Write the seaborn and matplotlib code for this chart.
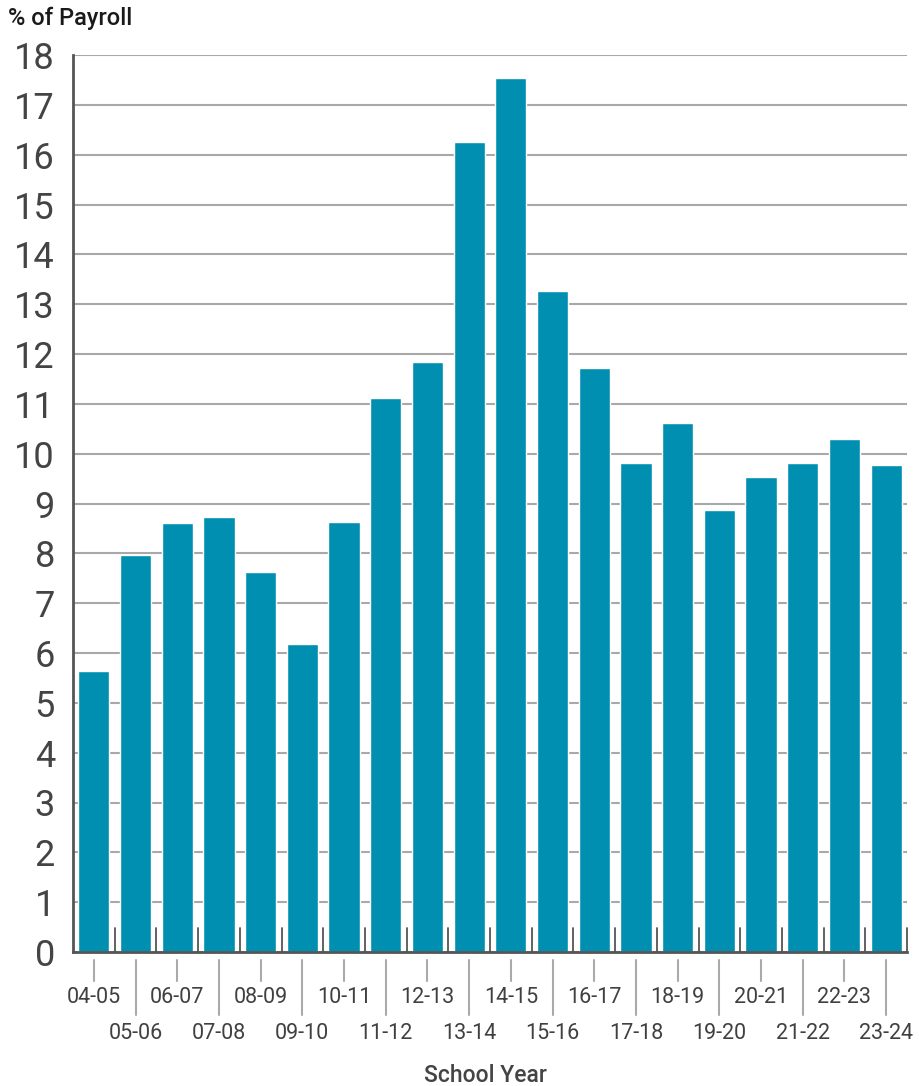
import matplotlib
matplotlib.use("Agg")
import matplotlib.pyplot as plt
import seaborn as sns
import pandas as pd
import numpy as np

years = ["04-05", "05-06", "06-07", "07-08", "08-09", "09-10", "10-11", "11-12",
         "12-13", "13-14", "14-15", "15-16", "16-17", "17-18", "18-19", "19-20",
         "20-21", "21-22", "22-23", "23-24"]
pct_payroll = [5.64, 7.97, 8.61, 8.73, 7.63, 6.18, 8.63, 11.12, 11.84, 16.26,
               17.54, 13.27, 11.72, 9.81, 10.62, 8.87, 9.53, 9.81, 10.29, 9.77]
y_ticks = list(range(0, 19))

sns.set_theme(style="white")
plt.rcParams['font.family'] = ['Roboto', 'DejaVu Sans']

df = pd.DataFrame({"year": years, "pct": pct_payroll})

W, H = 919, 1086
fig = plt.figure(figsize=(W / 100, H / 100), dpi=100)
ax_left, ax_right, ax_bottom, ax_top = 73, 907, 952, 55
ax = fig.add_axes([ax_left / W, 1 - ax_bottom / H, (ax_right - ax_left) / W, (ax_bottom - ax_top) / H])

sns.barplot(data=df, x="year", y="pct", color="#008eb1", saturation=1, width=0.75, ax=ax, zorder=3)

ax.set_ylim(0, 18)
ax.set_xlim(-0.5, len(years) - 0.5)
ax.set_yticks(y_ticks)
ax.set_yticklabels([str(t) for t in y_ticks], fontsize=26, color="#444444")
ax.yaxis.grid(True, color="#a8a8a8", linewidth=1.5, zorder=0)
ax.xaxis.grid(False)
ax.set_axisbelow(True)
ax.tick_params(axis="y", length=0, pad=13)

for s in ["top", "right"]:
    ax.spines[s].set_visible(False)
for s in ["left", "bottom"]:
    ax.spines[s].set_color("#555555")
    ax.spines[s].set_linewidth(2)
    ax.spines[s].set_zorder(5)

ax.set_xlabel("")
ax.set_ylabel("")
ax.tick_params(axis="x", length=0, labelsize=15.5, labelcolor="#404040")
ax_h = ax_bottom - ax_top
for i, t in enumerate(ax.xaxis.get_major_ticks()):
    t.set_pad(25.5 if i % 2 == 0 else 51)

# staggered grey connector lines below the axis
xs = np.arange(len(years))
for i in xs:
    y0 = -8 / ax_h
    y1 = -29 / ax_h if i % 2 == 0 else -63 / ax_h
    ax.plot([i, i], [y0, y1], transform=ax.get_xaxis_transform(), color="#aaaaaa",
            linewidth=1.5, clip_on=False, zorder=2)

# inner boundary tick marks
for b in np.arange(0.5, len(years), 1.0):
    ax.plot([b, b], [0, 24 / ax_h], transform=ax.get_xaxis_transform(), color="#555555",
            linewidth=1.3, clip_on=False, zorder=6)

fig.text(8 / W, 1 - 18 / H, "% of Payroll", fontsize=17, color="#1a1a1a", ha="left", va="center", fontweight="medium")
fig.text(485 / W, 1 - 1075 / H, "School Year", fontsize=16.5, color="#444444", ha="center", va="center", fontweight="medium")

fig.savefig("out.png", dpi=100)
